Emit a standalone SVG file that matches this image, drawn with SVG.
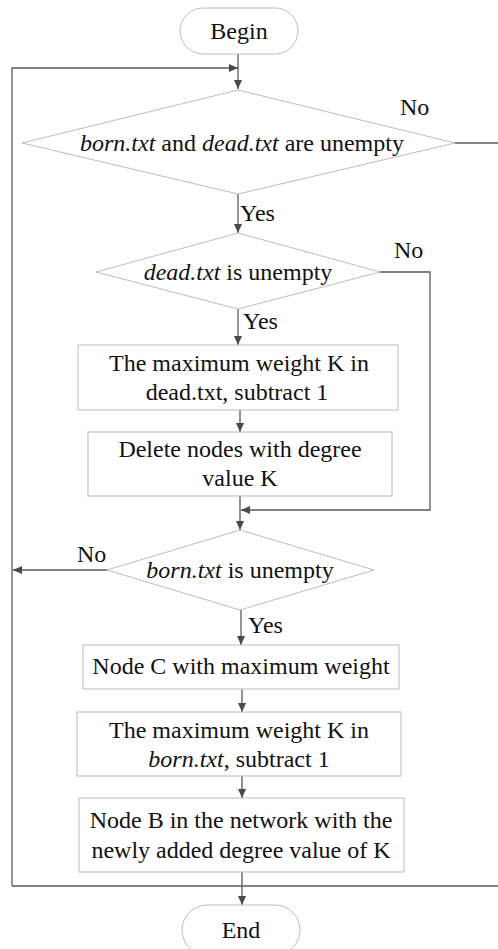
<svg xmlns="http://www.w3.org/2000/svg" width="498" height="949" viewBox="0 0 498 949">
<defs>
<marker id="ah" markerUnits="userSpaceOnUse" markerWidth="10" markerHeight="8" refX="9" refY="4" orient="auto">
<path d="M0,0 L9,4 L0,8 z" fill="#4a4a4a"/>
</marker>
<style>
.n{fill:#fff;stroke:#bdbdbd;stroke-width:1}
.c{fill:none;stroke:#5a5a5a;stroke-width:1.3}
.a{marker-end:url(#ah)}
text{fill:#111;font-family:"Liberation Serif","Times New Roman",serif;font-size:24px}
.m{text-anchor:middle}
.i{font-style:italic}
</style>
</defs>
<rect width="498" height="949" fill="#fff"/>
<g id="connectors">
<line class="c a" x1="238" y1="54" x2="238" y2="89"/>
<polyline class="c a" points="12,886 12,68 238,68"/>
<line class="c" x1="455" y1="143" x2="498" y2="143"/>
<line class="c a" x1="238" y1="194" x2="238" y2="233"/>
<polyline class="c a" points="380,272 430,272 430,510 241,510"/>
<line class="c a" x1="238" y1="309" x2="238" y2="345"/>
<line class="c a" x1="240" y1="410" x2="240" y2="432"/>
<line class="c a" x1="240" y1="496" x2="240" y2="530"/>
<line class="c a" x1="107" y1="570" x2="13" y2="570"/>
<line class="c a" x1="241" y1="610" x2="241" y2="645"/>
<line class="c a" x1="242" y1="689" x2="242" y2="712"/>
<line class="c a" x1="242" y1="776" x2="242" y2="798"/>
<line class="c a" x1="242" y1="872" x2="242" y2="905"/>
<line class="c" x1="12" y1="886" x2="498" y2="886"/>
<text x="400" y="115">No</text>
<text x="240" y="221">Yes</text>
<text x="394" y="258">No</text>
<text x="243" y="329">Yes</text>
<text x="77" y="562">No</text>
<text x="248" y="633">Yes</text>
</g>
<g id="begin">
<rect class="n" x="180" y="8" width="118" height="46" rx="23"/>
<text class="m" x="239" y="39">Begin</text>
</g>
<g id="d1">
<polygon class="n" points="238,90 455,143 238,194 22,143"/>
<text class="m" x="242" y="151"><tspan class="i">born.txt</tspan> and <tspan class="i">dead.txt</tspan> are unempty</text>
</g>
<g id="d2">
<polygon class="n" points="238,233 380,272 238,309 96,272"/>
<text class="m" x="238" y="280"><tspan class="i">dead.txt</tspan> is unempty</text>
</g>
<g id="b1">
<rect class="n" x="78" y="345" width="320" height="65"/>
<text class="m" x="239" y="371">The maximum weight K in</text>
<text class="m" x="237" y="400">dead.txt, subtract 1</text>
</g>
<g id="b2">
<rect class="n" x="88" y="432" width="304" height="64"/>
<text class="m" x="240" y="457">Delete nodes with degree</text>
<text class="m" x="240" y="486">value K</text>
</g>
<g id="d3">
<polygon class="n" points="240,530 374,570 240,610 107,570"/>
<text class="m" x="240" y="578"><tspan class="i">born.txt</tspan> is unempty</text>
</g>
<g id="b3">
<rect class="n" x="83" y="645" width="316" height="44"/>
<text class="m" x="241" y="674">Node C with maximum weight</text>
</g>
<g id="b4">
<rect class="n" x="77" y="712" width="324" height="64"/>
<text class="m" x="239" y="738">The maximum weight K in</text>
<text class="m" x="239" y="767"><tspan class="i">born.txt</tspan>, subtract 1</text>
</g>
<g id="b5">
<rect class="n" x="79" y="798" width="325" height="74"/>
<text class="m" x="241" y="828">Node B in the network with the</text>
<text class="m" x="241" y="858">newly added degree value of K</text>
</g>
<g id="end">
<rect class="n" x="182" y="905" width="118" height="50" rx="25"/>
<text class="m" x="241" y="938">End</text>
</g>
</svg>
